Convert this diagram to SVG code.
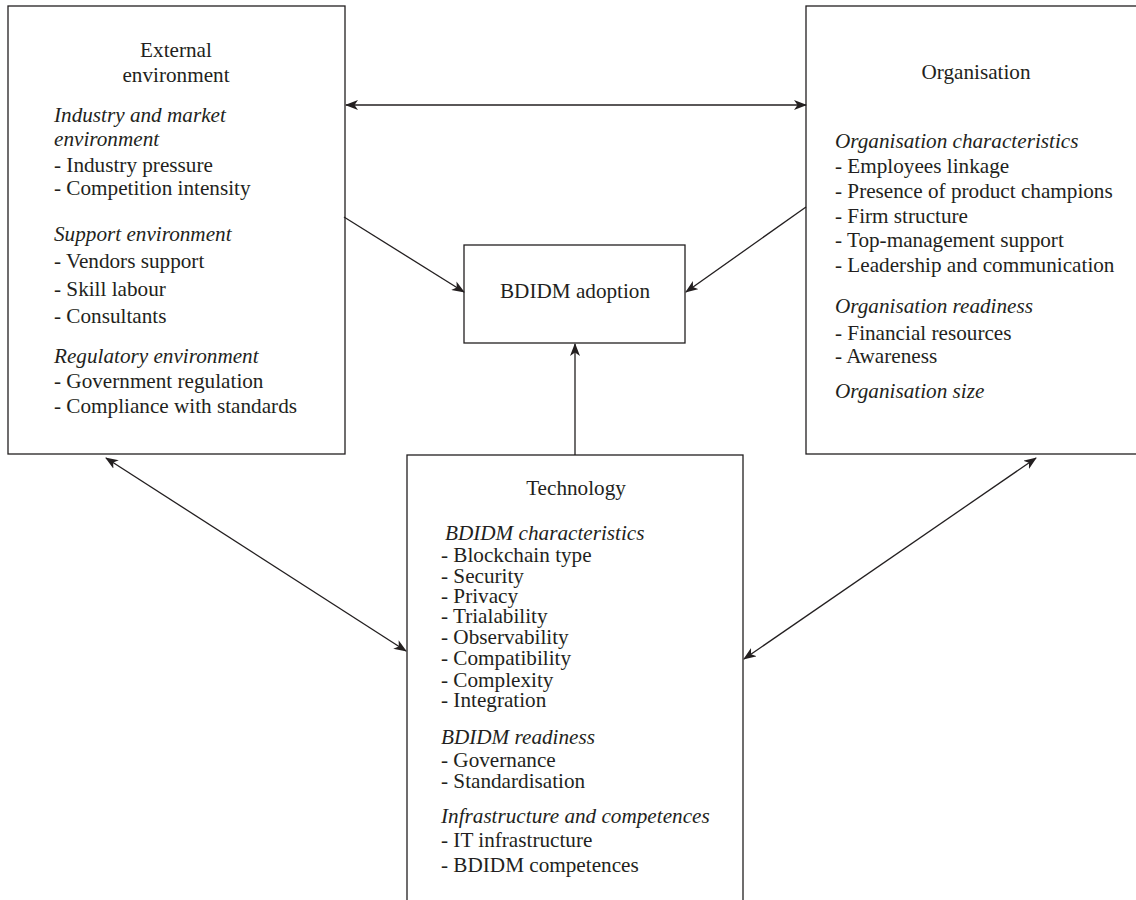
<svg xmlns="http://www.w3.org/2000/svg" width="1136" height="900" viewBox="0 0 1136 900">
<style>
.box{fill:#fff;stroke:#231f20;stroke-width:1.3}
.t{font-family:"Liberation Serif","Times New Roman",serif;font-size:21.2px;fill:#231f20}
.c{text-anchor:middle}
.i{font-style:italic}
.ln{stroke:#231f20;stroke-width:1.3;fill:none}
</style>
<defs>
<marker id="ah" viewBox="0 0 13 10" refX="12" refY="5" markerWidth="13" markerHeight="10" markerUnits="userSpaceOnUse" orient="auto-start-reverse">
<path d="M0,0 L13,5 L0,10 L3.5,5 z" fill="#231f20"/>
</marker>
</defs>
<rect width="1136" height="900" fill="#fff"/>
<g id="external">
<rect class="box" x="8" y="6" width="337" height="448"/>
<text class="t c" x="176" y="57">External</text>
<text class="t c" x="176" y="82">environment</text>
<text class="t i" x="54" y="122">Industry and market</text>
<text class="t i" x="54" y="146">environment</text>
<text class="t" x="54" y="172">- Industry pressure</text>
<text class="t" x="54" y="195">- Competition intensity</text>
<text class="t i" x="54" y="241">Support environment</text>
<text class="t" x="54" y="268">- Vendors support</text>
<text class="t" x="54" y="296">- Skill labour</text>
<text class="t" x="54" y="323">- Consultants</text>
<text class="t i" x="54" y="363">Regulatory environment</text>
<text class="t" x="54" y="388">- Government regulation</text>
<text class="t" x="54" y="413">- Compliance with standards</text>
</g>
<g id="organisation">
<rect class="box" x="806" y="6" width="334" height="448"/>
<text class="t c" x="976" y="79">Organisation</text>
<text class="t i" x="835" y="148">Organisation characteristics</text>
<text class="t" x="835" y="173">- Employees linkage</text>
<text class="t" x="835" y="198">- Presence of product champions</text>
<text class="t" x="835" y="223">- Firm structure</text>
<text class="t" x="835" y="247">- Top-management support</text>
<text class="t" x="835" y="272">- Leadership and communication</text>
<text class="t i" x="835" y="313">Organisation readiness</text>
<text class="t" x="835" y="340">- Financial resources</text>
<text class="t" x="835" y="363">- Awareness</text>
<text class="t i" x="835" y="398">Organisation size</text>
</g>
<g id="adoption">
<rect class="box" x="464" y="245" width="221" height="98"/>
<text class="t c" x="575" y="298">BDIDM adoption</text>
</g>
<g id="technology">
<rect class="box" x="407" y="455" width="336" height="460"/>
<text class="t c" x="576" y="495">Technology</text>
<text class="t i" x="445" y="540">BDIDM characteristics</text>
<text class="t" x="441" y="562">- Blockchain type</text>
<text class="t" x="441" y="583">- Security</text>
<text class="t" x="441" y="603">- Privacy</text>
<text class="t" x="441" y="623">- Trialability</text>
<text class="t" x="441" y="644">- Observability</text>
<text class="t" x="441" y="665">- Compatibility</text>
<text class="t" x="441" y="687">- Complexity</text>
<text class="t" x="441" y="707">- Integration</text>
<text class="t i" x="441" y="744">BDIDM readiness</text>
<text class="t" x="441" y="767">- Governance</text>
<text class="t" x="441" y="788">- Standardisation</text>
<text class="t i" x="441" y="823">Infrastructure and competences</text>
<text class="t" x="441" y="847">- IT infrastructure</text>
<text class="t" x="441" y="872">- BDIDM competences</text>
</g>
<g id="connectors">
<line class="ln" x1="346" y1="105" x2="806" y2="105" marker-start="url(#ah)" marker-end="url(#ah)"/>
<line class="ln" x1="344" y1="217" x2="464" y2="292" marker-end="url(#ah)"/>
<line class="ln" x1="806" y1="207" x2="686" y2="292" marker-end="url(#ah)"/>
<line class="ln" x1="575" y1="455" x2="575" y2="344" marker-end="url(#ah)"/>
<line class="ln" x1="106" y1="458" x2="406" y2="651" marker-start="url(#ah)" marker-end="url(#ah)"/>
<line class="ln" x1="1036" y1="458" x2="744" y2="659" marker-start="url(#ah)" marker-end="url(#ah)"/>
</g>
</svg>
